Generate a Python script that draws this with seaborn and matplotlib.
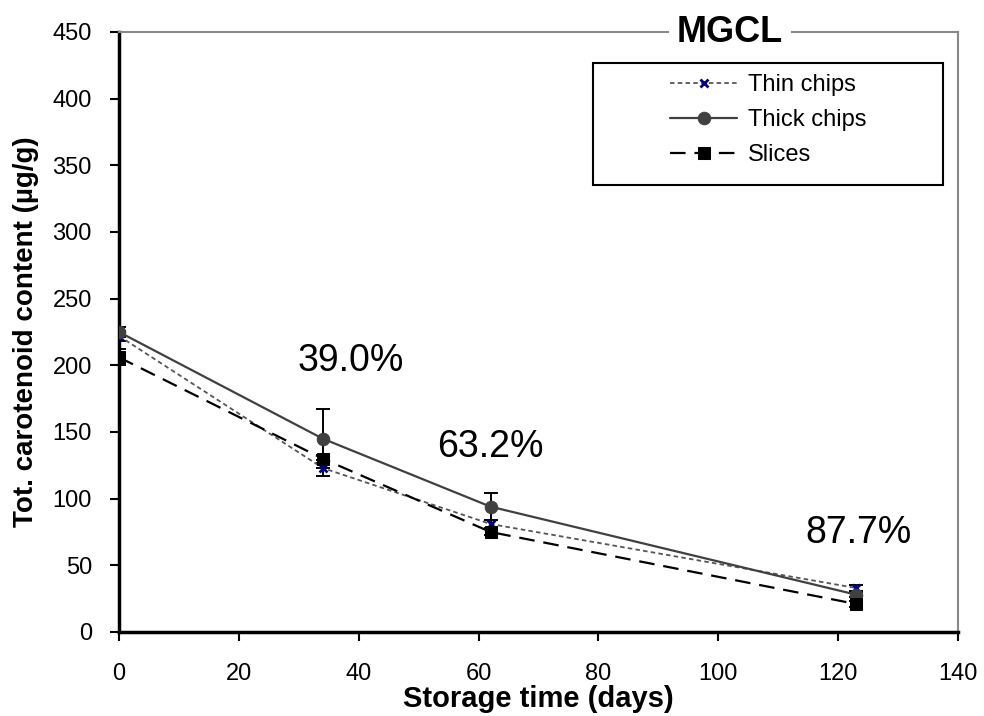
# carotenoid loss during storage - MGCL
import numpy as np
import pandas as pd
import matplotlib
matplotlib.use("Agg")
import matplotlib.pyplot as plt
from matplotlib.patches import Rectangle
import seaborn as sns

# data
days = [0, 34, 62, 123]
thin_chips = [222, 123, 81, 33]
thick_chips = [225, 145, 94, 28]
slices = [206, 130, 75, 21]
thin_err = [4, 6, 3, 2]
thick_err = [4, 22, 10, 2]
slices_err = [6, 3, 2, 2]

loss_labels = ["39.0%", "63.2%", "87.7%"]
loss_x = [38.7, 61.9, 123.4]
loss_y = [203, 139, 74]

sns.set_style("white")
plt.rcParams['font.family'] = ['Liberation Sans', 'DejaVu Sans']
plt.rcParams['text.color'] = 'black'
plt.rcParams['axes.labelcolor'] = 'black'

W, H = 984, 716
fig = plt.figure(figsize=(W/100, H/100), dpi=100)
ax = fig.add_axes([119/W, 1 - 632/H, (958 - 119)/W, 600/H])

df = pd.DataFrame({"days": days, "thin": thin_chips, "thick": thick_chips, "slices": slices})

# error bars first so markers sit on top
for vals, err in [(thin_chips, thin_err), (thick_chips, thick_err), (slices, slices_err)]:
    ax.errorbar(days, vals, yerr=err, fmt='none', ecolor='black', elinewidth=1.4,
                capsize=5, capthick=1.4, zorder=2)

sns.lineplot(data=df, x="days", y="thin", ax=ax, color="#555555", linewidth=1.3,
             marker="x", markersize=6, markeredgewidth=2, markeredgecolor="#000080",
             label="Thin chips", zorder=3)
sns.lineplot(data=df, x="days", y="thick", ax=ax, color="#404040", linewidth=1.6,
             marker="o", markersize=9, markeredgecolor="#404040", markerfacecolor="#404040",
             label="Thick chips", zorder=3)
sns.lineplot(data=df, x="days", y="slices", ax=ax, color="black", linewidth=1.6,
             marker="s", markersize=8, markeredgecolor="black", markerfacecolor="black",
             label="Slices", zorder=3)

lines = ax.get_lines()
lines[-3].set_dashes([2.5, 1.8])
lines[-1].set_dashes([7, 4])

for lab, xx, yy in zip(loss_labels, loss_x, loss_y):
    ax.text(xx, yy, lab, ha="center", va="center", fontsize=27, color="black")

ax.set_xlim(0, 140)
ax.set_ylim(0, 450)
ax.set_xticks(np.arange(0, 141, 20))
ax.set_yticks(np.arange(0, 451, 50))
ax.tick_params(axis="both", direction="out", length=6.5, width=1.5, labelsize=17,
               bottom=True, left=True, colors="black")
ax.tick_params(axis="x", pad=16)
ax.tick_params(axis="y", pad=13)

ax.set_xlabel("Storage time (days)", fontsize=21, fontweight="bold", labelpad=0)
ax.set_ylabel("Tot. carotenoid content (µg/g)", fontsize=20, fontweight="bold", labelpad=10)

for side in ["left", "bottom"]:
    ax.spines[side].set_color("black")
    ax.spines[side].set_linewidth(2.5)
for side in ["top", "right"]:
    ax.spines[side].set_color("#888888")
    ax.spines[side].set_linewidth(1.5)
    ax.spines[side].set_visible(True)

# title sits on the top frame line
ax.text((730 - 119)/(958 - 119), 1.0, "MGCL", transform=ax.transAxes, ha="center", va="center",
        fontsize=26, fontweight="bold", color="black",
        bbox=dict(facecolor="white", edgecolor="none", pad=6), zorder=5)

# legend box is wider than its entries, so draw the frame separately
ax.add_patch(Rectangle((593/W, 1 - 185/H), 350/W, 122/H, transform=fig.transFigure,
                       facecolor="white", edgecolor="black", linewidth=1.5,
                       clip_on=False, zorder=4))
leg = ax.legend(loc="upper left", bbox_to_anchor=(670/W, 1 - 74/H), bbox_transform=fig.transFigure,
                fontsize=17, frameon=False, handlelength=2.85, labelspacing=0.55,
                borderpad=0, borderaxespad=0, handletextpad=0.45)
leg.set_zorder(6)

fig.savefig("out.png", dpi=100)
